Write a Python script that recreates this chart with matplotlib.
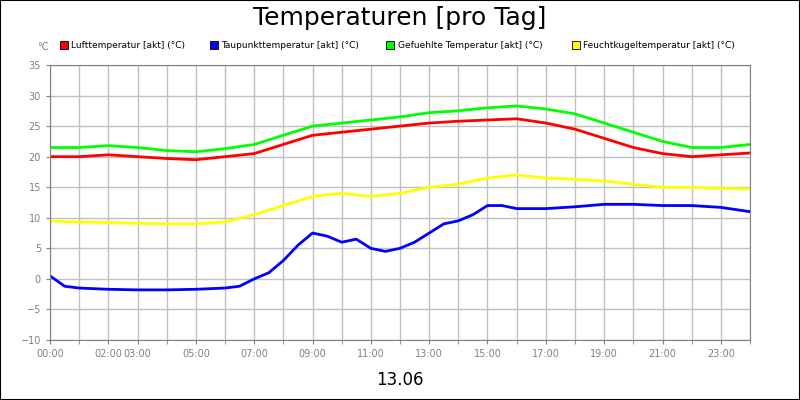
import matplotlib
matplotlib.use("Agg")
import matplotlib.pyplot as plt
from matplotlib.patches import Rectangle

hours = list(range(25))
luft = [20, 20, 20.3, 20, 19.7, 19.5, 20, 20.5, 22, 23.5, 24, 24.5, 25, 25.5, 25.8, 26, 26.2, 25.5, 24.5, 23, 21.5, 20.5, 20, 20.3, 20.6]
gefuehlt = [21.5, 21.5, 21.8, 21.5, 21, 20.8, 21.3, 22, 23.5, 25, 25.5, 26, 26.5, 27.2, 27.5, 28, 28.3, 27.8, 27, 25.5, 24, 22.5, 21.5, 21.5, 22]
feucht = [9.5, 9.3, 9.2, 9.1, 9, 9, 9.3, 10.5, 12, 13.5, 14, 13.5, 14, 15, 15.5, 16.5, 17, 16.5, 16.3, 16, 15.5, 15, 15, 14.8, 14.7]
half_hours = [0, 0.5, 1, 2, 3, 4, 5, 6, 6.5, 7, 7.5, 8, 8.5, 9, 9.5, 10, 10.5, 11, 11.5, 12, 12.5, 13, 13.5, 14, 14.5, 15, 15.5, 16, 17, 18, 19, 20, 21, 22, 23, 24]
taupunkt = [0.5, -1.2, -1.5, -1.7, -1.8, -1.8, -1.7, -1.5, -1.2, 0, 1, 3, 5.5, 7.5, 7, 6, 6.5, 5, 4.5, 5, 6, 7.5, 9, 9.5, 10.5, 12, 12, 11.5, 11.5, 11.8, 12.2, 12.2, 12, 12, 11.7, 11]
tick_pos = [0, 2, 3, 5, 7, 9, 11, 13, 15, 17, 19, 21, 23]
tick_labels = ["00:00", "02:00", "03:00", "05:00", "07:00", "09:00", "11:00", "13:00", "15:00", "17:00", "19:00", "21:00", "23:00"]
names = ["Lufttemperatur [akt] (°C)", "Taupunkttemperatur [akt] (°C)", "Gefuehlte Temperatur [akt] (°C)", "Feuchtkugeltemperatur [akt] (°C)"]
colors = ["#ff0000", "#0000ff", "#00ff00", "#ffff00"]

fig = plt.figure(figsize=(8, 4), dpi=100)
fig.patches.append(Rectangle((0, 0), 1, 1, transform=fig.transFigure, fill=False, ec="black", lw=1.5))
ax = fig.add_axes([0.0625, 0.15, 0.875, 0.6875])
ax.plot(hours, luft, color=colors[0], lw=2)
ax.plot(half_hours, taupunkt, color=colors[1], lw=2)
ax.plot(hours, gefuehlt, color=colors[2], lw=2)
ax.plot(hours, feucht, color=colors[3], lw=2)
ax.set_xlim(0, 24)
ax.set_ylim(-10, 35)
ax.set_yticks(range(-10, 36, 5))
ax.set_xticks(tick_pos)
ax.set_xticklabels(tick_labels)
ax.set_xticks(range(25), minor=True)
ax.grid(True, which="both", color="#c0c0c0", lw=1)
ax.set_axisbelow(True)
ax.tick_params(labelsize=7, colors="#808080", length=3, which="both")
for s in ax.spines.values():
    s.set_color("#808080")
fig.text(0.5, 0.955, "Temperaturen [pro Tag]", ha="center", va="center", fontsize=18)
fig.text(0.047, 0.875, "°C", fontsize=7, color="#808080")
fig.text(0.5, 0.05, "13.06", ha="center", va="center", fontsize=12)
xs = [0.075, 0.262, 0.483, 0.715]
for x, n, c in zip(xs, names, colors):
    fig.patches.append(Rectangle((x, 0.877), 0.01, 0.02, transform=fig.transFigure, fc=c, ec="black", lw=0.6))
    fig.text(x + 0.014, 0.887, n, fontsize=6.5, va="center")
fig.savefig("out.png")
